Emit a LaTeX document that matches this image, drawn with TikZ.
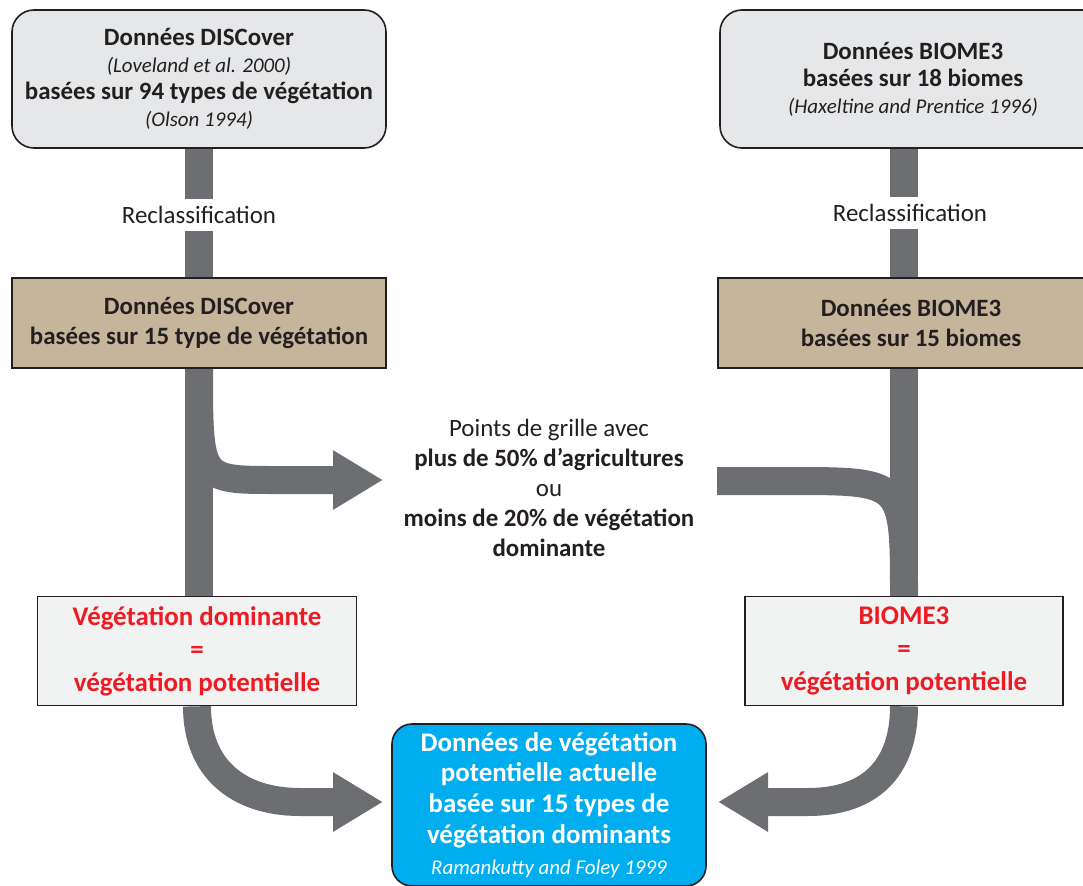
\documentclass[tikz,border=0pt]{standalone}
\usepackage{fontspec}
\setmainfont{Carlito}
\usetikzlibrary{arrows.meta,backgrounds}

\definecolor{encre}{HTML}{231F20}
\definecolor{grisboite}{HTML}{E6E7E8}
\definecolor{grisclair}{HTML}{F1F2F2}
\definecolor{grisflux}{HTML}{6D6E71}
\definecolor{beige}{HTML}{C4B59B}
\definecolor{rouge}{HTML}{ED1C24}
\definecolor{bleu}{HTML}{00AEEF}

\newcommand{\auteurs}[1]{{\fontsize{21}{27}\selectfont\mdseries\itshape #1}}

\begin{document}
\begin{tikzpicture}[x=1bp, y=-1bp,
    every node/.style={align=center, text=encre},
    boite/.style={draw=encre, line width=1.6bp, font=\fontsize{25}{27}\selectfont\bfseries},
    flux/.style={draw=grisflux, line width=28bp},
    fleche/.style={flux, -{Triangle[length=50bp, width=56bp]}},
  ]
  \useasboundingbox (0,0) rectangle (1083,886);

  % sources
  \node[boite, fill=grisboite, rounded corners=22bp, minimum width=374bp, minimum height=138bp] (dis94) at (199,79)
    {Données DISCover\\ \auteurs{(Loveland et al. 2000)}\\ basées sur 94 types de végétation\\ \auteurs{(Olson 1994)}};
  \node[boite, fill=grisboite, rounded corners=22bp, minimum width=386bp, minimum height=138bp] (biome18) at (913,79)
    {Données BIOME3\\ basées sur 18 biomes\\ \auteurs{(Haxeltine and Prentice 1996)}};

  \node[fill=white, font=\fontsize{25}{28}\selectfont, inner ysep=7bp] (reclL) at (199,215) {Reclassification};
  \node[fill=white, font=\fontsize{25}{28}\selectfont, inner ysep=7bp] (reclR) at (910,213) {Reclassification};

  % donnees reclassees
  \node[boite, fill=beige, minimum width=374bp, minimum height=90bp, font=\fontsize{25}{30}\selectfont\bfseries] (dis15) at (199,323)
    {Données DISCover\\ basées sur 15 type de végétation};
  \node[boite, fill=beige, minimum width=386bp, minimum height=90bp, font=\fontsize{25}{30}\selectfont\bfseries] (biome15) at (911,323)
    {Données BIOME3\\ basées sur 15 biomes};

  \node[font=\fontsize{25}{30}\selectfont] (crit) at (549,488)
    {Points de grille avec\\ \textbf{plus de 50\% d’agricultures}\\ ou\\ \textbf{moins de 20\% de végétation}\\ \textbf{dominante}};

  % vegetation potentielle
  \node[boite, fill=grisclair, minimum width=319bp, minimum height=109bp, text=rouge, font=\fontsize{27}{33}\selectfont\bfseries] (potL) at (197,651)
    {Végétation dominante\\ =\\ végétation potentielle};
  \node[boite, fill=grisclair, minimum width=318bp, minimum height=109bp, text=rouge, font=\fontsize{27}{33}\selectfont\bfseries] (potR) at (904,651)
    {BIOME3\\ =\\ végétation potentielle};

  \node[boite, fill=bleu, rounded corners=20bp, minimum width=314bp, minimum height=162bp, text=white, font=\fontsize{27}{31}\selectfont\bfseries] (final) at (549,805)
    {Données de végétation\\ potentielle actuelle\\ basée sur 15 types de\\ végétation dominants\\ {\fontsize{21}{27}\selectfont\mdseries\itshape Ramankutty and Foley 1999}};

  \coordinate (versC) at (383,480);
  \coordinate (deC) at (717,481);
  \coordinate (finL) at (383,802);
  \coordinate (finR) at (718,802);

  \begin{scope}[on background layer]
    \draw[flux] (dis94.south) -- (dis94.south |- potL.north);
    \draw[flux] (biome18.south -| potR.north) -- (potR.north);
    \draw[fleche] (dis15.south) .. controls (199,480) .. (275,480) -- (versC);
    \draw[flux] (deC) -- (790,481) .. controls (904,481) .. (potR.north);
    \draw[fleche] (potL.south) .. controls +(0,62) and +(-62,0) .. (300,802) -- (finL);
    \draw[fleche] (potR.south) .. controls +(0,62) and +(62,0) .. (808,802) -- (finR);
  \end{scope}
\end{tikzpicture}
\end{document}
